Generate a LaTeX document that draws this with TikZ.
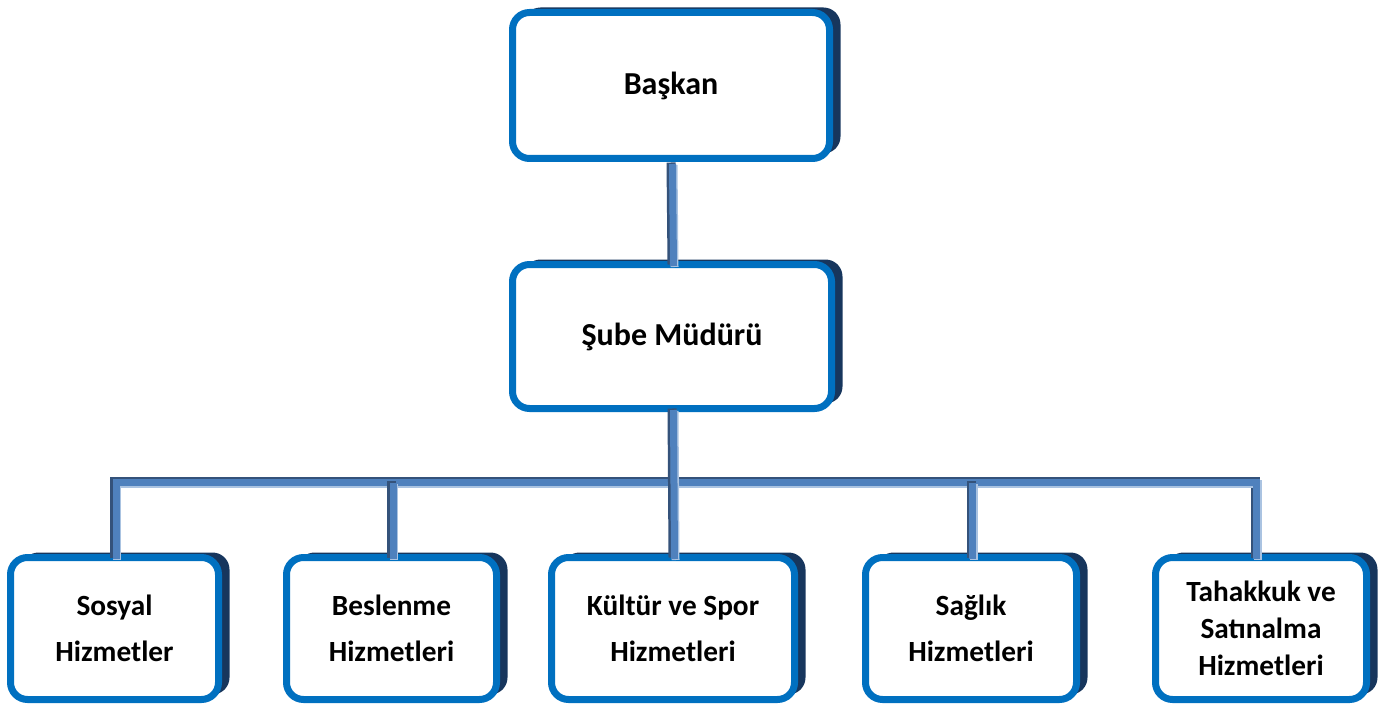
\documentclass[tikz,border=0pt]{standalone}
\usepackage{fontspec}
\setmainfont{Carlito}
\usetikzlibrary{shadows}
\definecolor{boxblue}{RGB}{0,112,192}
\definecolor{navy}{RGB}{23,54,93}
\definecolor{bardark}{RGB}{52,82,122}
\definecolor{barmid}{RGB}{79,129,189}
\definecolor{barlight}{RGB}{170,195,225}
\tikzset{
  orgbox/.style={draw=boxblue, line width=7pt, fill=white, rounded corners=17pt,
    outer sep=0pt, align=center, inner sep=0pt,
    general shadow={fill=navy, shadow xshift=11pt, shadow yshift=5pt}},
  topfont/.style={font=\fontsize{32}{37}\selectfont\bfseries},
  botfont/.style={font=\fontsize{29.3}{46}\selectfont\bfseries},
  smallfont/.style={font=\fontsize{29.3}{37}\selectfont\bfseries},
  bar/.style={draw=bardark, line width=9pt,
    postaction={draw=barlight, line width=8pt, transform canvas={shift={(2.5pt,-2.5pt)}}},
    postaction={draw=barmid, line width=7pt, transform canvas={shift={(1.5pt,-1.5pt)}}}}
}
\begin{document}
\begin{tikzpicture}[x=1pt, y=-1pt]
\useasboundingbox (0,0) rectangle (1395,706);
\node[orgbox, topfont, minimum width=317pt, minimum height=146pt] (baskan) at (671,85.5) {Başkan};
\node[orgbox, topfont, minimum width=319pt, minimum height=144pt] (sube) at (672,336.5) {Şube Müdürü};
\node[orgbox, botfont, minimum width=208pt, minimum height=142pt] (sosyal) at (114.5,628.5) {Sosyal\\Hizmetler};
\node[orgbox, botfont, minimum width=210pt, minimum height=142pt] (beslenme) at (391.5,628.5) {Beslenme\\Hizmetleri};
\node[orgbox, botfont, minimum width=243pt, minimum height=142pt] (kultur) at (673,628.5) {Kültür ve Spor\\Hizmetleri};
\node[orgbox, botfont, minimum width=211pt, minimum height=142pt] (saglik) at (971,628.5) {Sağlık\\Hizmetleri};
\node[orgbox, smallfont, minimum width=211pt, minimum height=142pt] (tahakkuk) at (1261,628.5) {Tahakkuk ve\\Satınalma\\Hizmetleri};
\coordinate (bus) at (672,481);
\draw[bar] ([yshift=-4pt]baskan.south) -- (sube.north);
\draw[bar] (sosyal.north) |- (bus) -| ([xshift=-6pt]tahakkuk.north);
\draw[bar] (beslenme.north) -- (beslenme.north |- bus);
\draw[bar] (saglik.north) -- (saglik.north |- bus);
\draw[bar] (sube.south) -- (kultur.north);
\end{tikzpicture}
\end{document}
